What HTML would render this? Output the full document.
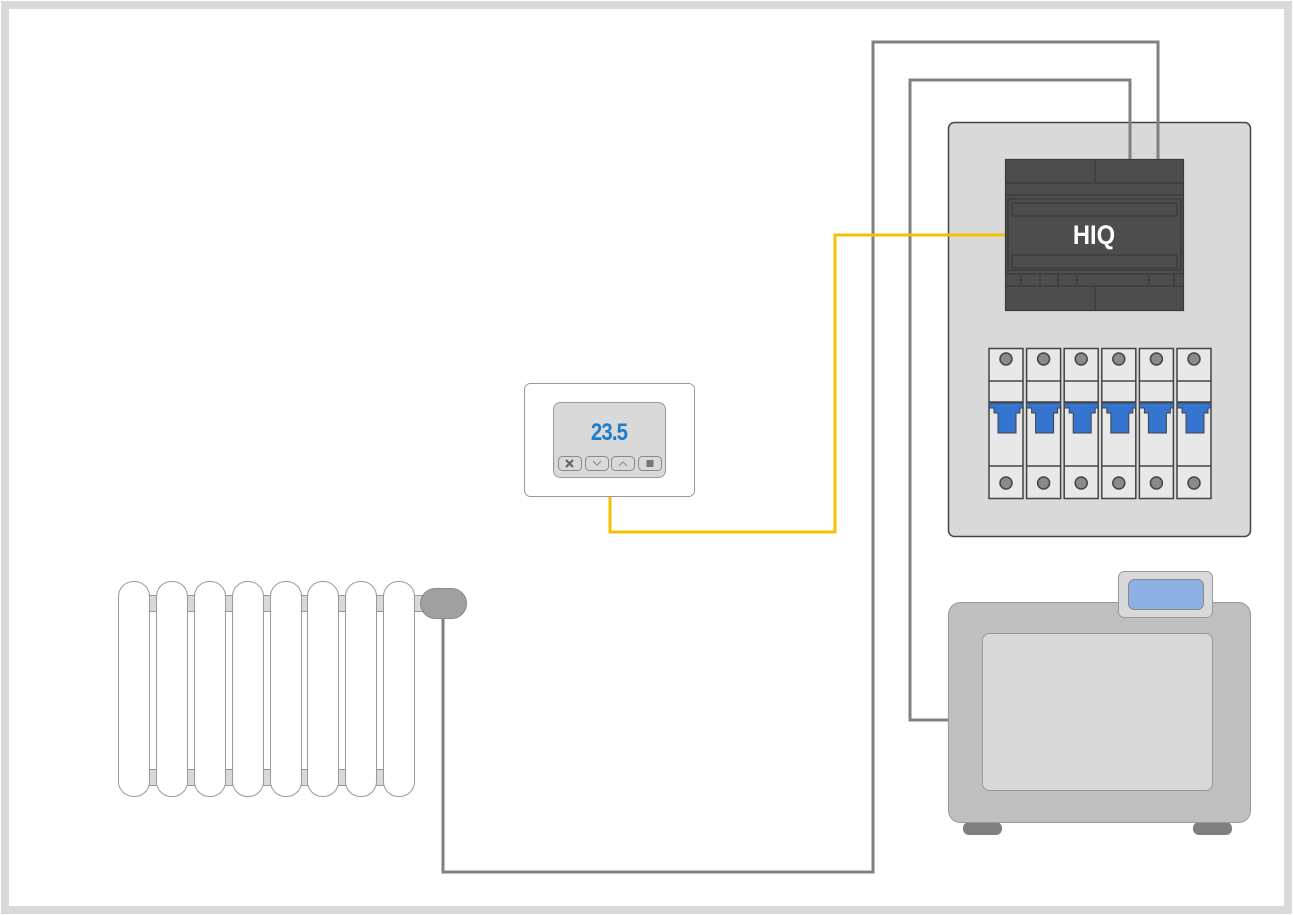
<!DOCTYPE html>
<html><head><meta charset="utf-8"><style>html,body{margin:0;padding:0;background:#fff}svg{display:block}</style></head>
<body>
<svg width="1293" height="915" viewBox="0 0 1293 915" xmlns="http://www.w3.org/2000/svg" font-family="Liberation Sans, sans-serif">
<rect x="5" y="5" width="1283" height="905" fill="#fff" stroke="#d9d9d9" stroke-width="8"/>
<rect x="948.5" y="122.5" width="302" height="414" rx="6" fill="#d9d9d9" stroke="#444" stroke-width="1.5"/>
<g fill="none" stroke="#808080" stroke-width="3">
<polyline points="443,618 443,872 873,872 873,42 1158,42 1158,160"/>
<polyline points="948,720 910,720 910,80 1130,80 1130,160"/>
</g>
<polyline points="610,497 610,532 835,532 835,235 1006,235" fill="none" stroke="#f5c000" stroke-width="3"/>
<g stroke="#3a3a3a" stroke-width="1.2" fill="#4d4d4d">
<rect x="1005.5" y="159.5" width="178" height="151"/>
<line x1="1005" y1="183" x2="1184" y2="183"/>
<line x1="1005" y1="195" x2="1184" y2="195"/>
<line x1="1095" y1="160" x2="1095" y2="183"/>
<rect x="1008" y="199" width="173" height="71"/>
<rect x="1012" y="203" width="165" height="13"/>
<rect x="1012" y="255" width="165" height="13"/>
<line x1="1005" y1="274" x2="1184" y2="274"/>
<line x1="1005" y1="286" x2="1184" y2="286"/>
<line x1="1021" y1="274" x2="1021" y2="286"/>
<line x1="1040" y1="274" x2="1040" y2="286"/>
<line x1="1058" y1="274" x2="1058" y2="286"/>
<line x1="1077" y1="274" x2="1077" y2="286"/>
<line x1="1149" y1="274" x2="1149" y2="286"/>
<line x1="1174" y1="274" x2="1174" y2="286"/>
<line x1="1095" y1="286" x2="1095" y2="310"/>
</g>
<text x="0" y="244" text-anchor="middle" font-size="27" font-weight="bold" fill="#fff" transform="translate(1094,0) scale(0.88,1)">HIQ</text>
<g stroke="#444" stroke-width="1.5">
<g transform="translate(989,0)"><rect x="0" y="348.5" width="34" height="150" fill="#e8e8e8"/><line x1="0" y1="381" x2="34" y2="381"/><line x1="0" y1="402" x2="34" y2="402"/><line x1="0" y1="466" x2="34" y2="466"/><polygon points="0,403 34,403 34,408 31,408 31,413 27,413 27,433 9,433 9,413 5,413 5,408 0,408" fill="#3575d0" stroke-width="1"/><circle cx="17" cy="359" r="6" fill="#8a8a8a"/><circle cx="17" cy="483" r="6" fill="#8a8a8a"/></g>
<g transform="translate(1026.6,0)"><rect x="0" y="348.5" width="34" height="150" fill="#e8e8e8"/><line x1="0" y1="381" x2="34" y2="381"/><line x1="0" y1="402" x2="34" y2="402"/><line x1="0" y1="466" x2="34" y2="466"/><polygon points="0,403 34,403 34,408 31,408 31,413 27,413 27,433 9,433 9,413 5,413 5,408 0,408" fill="#3575d0" stroke-width="1"/><circle cx="17" cy="359" r="6" fill="#8a8a8a"/><circle cx="17" cy="483" r="6" fill="#8a8a8a"/></g>
<g transform="translate(1064.2,0)"><rect x="0" y="348.5" width="34" height="150" fill="#e8e8e8"/><line x1="0" y1="381" x2="34" y2="381"/><line x1="0" y1="402" x2="34" y2="402"/><line x1="0" y1="466" x2="34" y2="466"/><polygon points="0,403 34,403 34,408 31,408 31,413 27,413 27,433 9,433 9,413 5,413 5,408 0,408" fill="#3575d0" stroke-width="1"/><circle cx="17" cy="359" r="6" fill="#8a8a8a"/><circle cx="17" cy="483" r="6" fill="#8a8a8a"/></g>
<g transform="translate(1101.8,0)"><rect x="0" y="348.5" width="34" height="150" fill="#e8e8e8"/><line x1="0" y1="381" x2="34" y2="381"/><line x1="0" y1="402" x2="34" y2="402"/><line x1="0" y1="466" x2="34" y2="466"/><polygon points="0,403 34,403 34,408 31,408 31,413 27,413 27,433 9,433 9,413 5,413 5,408 0,408" fill="#3575d0" stroke-width="1"/><circle cx="17" cy="359" r="6" fill="#8a8a8a"/><circle cx="17" cy="483" r="6" fill="#8a8a8a"/></g>
<g transform="translate(1139.4,0)"><rect x="0" y="348.5" width="34" height="150" fill="#e8e8e8"/><line x1="0" y1="381" x2="34" y2="381"/><line x1="0" y1="402" x2="34" y2="402"/><line x1="0" y1="466" x2="34" y2="466"/><polygon points="0,403 34,403 34,408 31,408 31,413 27,413 27,433 9,433 9,413 5,413 5,408 0,408" fill="#3575d0" stroke-width="1"/><circle cx="17" cy="359" r="6" fill="#8a8a8a"/><circle cx="17" cy="483" r="6" fill="#8a8a8a"/></g>
<g transform="translate(1177,0)"><rect x="0" y="348.5" width="34" height="150" fill="#e8e8e8"/><line x1="0" y1="381" x2="34" y2="381"/><line x1="0" y1="402" x2="34" y2="402"/><line x1="0" y1="466" x2="34" y2="466"/><polygon points="0,403 34,403 34,408 31,408 31,413 27,413 27,433 9,433 9,413 5,413 5,408 0,408" fill="#3575d0" stroke-width="1"/><circle cx="17" cy="359" r="6" fill="#8a8a8a"/><circle cx="17" cy="483" r="6" fill="#8a8a8a"/></g>
</g>
<rect x="524.5" y="383.5" width="170" height="113" rx="6" fill="#fff" stroke="#999"/>
<rect x="553.5" y="402.5" width="112" height="75" rx="7" fill="#d9d9d9" stroke="#999"/>
<text x="0" y="440" text-anchor="middle" font-size="24" font-weight="bold" fill="#1a7ccc" letter-spacing="-1" transform="translate(609,0) scale(0.85,1)">23.5</text>
<g fill="#d9d9d9" stroke="#888">
<rect x="558.5" y="456.5" width="23" height="14" rx="4"/>
<rect x="585.5" y="456.5" width="23" height="14" rx="4"/>
<rect x="611.5" y="456.5" width="23" height="14" rx="4"/>
<rect x="638.5" y="456.5" width="23" height="14" rx="4"/>
</g>
<path d="M566,460 L573,467 M573,460 L566,467" stroke="#666" stroke-width="2.2"/>
<path d="M593,461 L597,465 L601,461" stroke="#888" fill="none"/>
<path d="M619,466 L623,462 L627,466" stroke="#888" fill="none"/>
<rect x="646.5" y="460" width="7" height="7" fill="#777"/>
<g fill="#d9d9d9" stroke="#999">
<rect x="140" y="595.5" width="290" height="16"/>
<rect x="140" y="769.5" width="260" height="16"/>
</g>
<g fill="#fff" stroke="#999">
<rect x="118.5" y="581.5" width="31" height="215" rx="15"/>
<rect x="156.5" y="581.5" width="31" height="215" rx="15"/>
<rect x="194.5" y="581.5" width="31" height="215" rx="15"/>
<rect x="232.5" y="581.5" width="31" height="215" rx="15"/>
<rect x="270.5" y="581.5" width="31" height="215" rx="15"/>
<rect x="307.5" y="581.5" width="31" height="215" rx="15"/>
<rect x="345.5" y="581.5" width="31" height="215" rx="15"/>
<rect x="383.5" y="581.5" width="31" height="215" rx="15"/>
</g>
<rect x="420.5" y="588.5" width="46" height="30" rx="15" fill="#a0a0a0" stroke="#888"/>
<rect x="963" y="822" width="39" height="13" rx="6" fill="#808080"/>
<rect x="1193" y="822" width="39" height="13" rx="6" fill="#808080"/>
<rect x="948.5" y="602.5" width="302" height="220" rx="12" fill="#bfbfbf" stroke="#999"/>
<rect x="982.5" y="633.5" width="230" height="157" rx="7" fill="#d9d9d9" stroke="#999"/>
<rect x="1118.5" y="571.5" width="94" height="46" rx="6" fill="#d9d9d9" stroke="#999"/>
<rect x="1128.5" y="579.5" width="75" height="30" rx="6" fill="#8db0e3" stroke="#888"/>
</svg>
</body></html>
